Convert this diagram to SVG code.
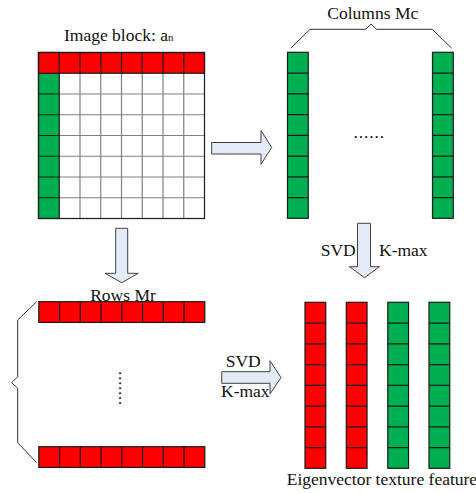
<svg xmlns="http://www.w3.org/2000/svg" xmlns:xlink="http://www.w3.org/1999/xlink" width="476" height="493" viewBox="0 0 476 493">
  <style>
    text { font-family: "Liberation Serif", "Times New Roman", serif; font-size: 17.5px; fill: #111; }
    .cell { stroke: #1a1a1a; stroke-width: 1.2; }
    .div { stroke: #1a1a1a; stroke-width: 1.2; fill: none; }
    .grey { stroke: #808080; stroke-width: 1.2; fill: none; }
    .arrow { fill: #e4ebf6; stroke: #404040; stroke-width: 1; stroke-linejoin: miter; }
    .brace { fill: none; stroke: #333; stroke-width: 1; }
    .red { fill: #ff0000; }
    .green { fill: #00b050; }
  </style>
  <defs>
    <!-- vertical bar of 8 cells; fill comes from the <use> element -->
    <g id="vbar">
      <rect class="cell" x="0" y="0" width="20.75" height="166"/>
      <path class="div" d="M0,20.75H20.75M0,41.5H20.75M0,62.25H20.75M0,83H20.75M0,103.75H20.75M0,124.5H20.75M0,145.25H20.75"/>
    </g>
    <!-- horizontal bar of 8 cells -->
    <g id="hbar">
      <rect class="cell" x="0" y="0" width="166" height="20.75"/>
      <path class="div" d="M20.75,0V20.75M41.5,0V20.75M62.25,0V20.75M83,0V20.75M103.75,0V20.75M124.5,0V20.75M145.25,0V20.75"/>
    </g>
  </defs>

  <!-- image block a_n -->
  <g id="image-block">
    <text x="64" y="41">Image block: a<tspan font-size="11">n</tspan></text>
    <rect x="59.25" y="73.25" width="145.25" height="145.25" fill="#fff"/>
    <path class="grey" d="M80,73.25V218.5M100.75,73.25V218.5M121.5,73.25V218.5M142.25,73.25V218.5M163,73.25V218.5M183.75,73.25V218.5M59.25,94H204.5M59.25,114.75H204.5M59.25,135.5H204.5M59.25,156.25H204.5M59.25,177H204.5M59.25,197.75H204.5"/>
    <use xlink:href="#vbar" x="38.5" y="52.5" class="green"/>
    <use xlink:href="#hbar" x="38.5" y="52.5" class="red"/>
    <rect x="38.5" y="52.5" width="166" height="166" fill="none" stroke="#1a1a1a" stroke-width="1.2"/>
  </g>

  <!-- columns Mc -->
  <g id="columns">
    <text x="327.3" y="19">Columns Mc</text>
    <path class="brace" d="M290.7,48.3L310,29.3H365.7L371,24L376.7,29.3H432.3L451.7,48.3"/>
    <use xlink:href="#vbar" x="287.5" y="52.3" class="green"/>
    <use xlink:href="#vbar" x="432.5" y="52.3" class="green"/>
    <text x="353.5" y="137.5" letter-spacing="0.9">......</text>
  </g>

  <!-- rows Mr -->
  <g id="rows">
    <path class="brace" d="M36.7,301.7L17.7,320V376.7L11.7,382.7L17.7,388.3V442.7L36.7,462.7"/>
    <use xlink:href="#hbar" x="38.8" y="301.7" class="red"/>
    <use xlink:href="#hbar" x="38.8" y="446.7" class="red"/>
    <text x="123" y="301" text-anchor="middle">Rows Mr</text>
    <text transform="translate(119,371) rotate(90)" letter-spacing="0.6">.......</text>
  </g>

  <!-- eigenvector texture feature -->
  <g id="features">
    <use xlink:href="#vbar" x="305" y="302.3" class="red"/>
    <use xlink:href="#vbar" x="346.3" y="302.3" class="red"/>
    <use xlink:href="#vbar" x="387.8" y="302.3" class="green"/>
    <use xlink:href="#vbar" x="429" y="302.3" class="green"/>
    <text x="286.7" y="485">Eigenvector texture feature</text>
  </g>

  <!-- block arrows -->
  <g id="connectors">
    <path class="arrow" d="M211.7,142.5H261V130.5L271.7,147.4L261,164.3V154H211.7Z"/>
    <path class="arrow" d="M115.7,228.3H127.7V273.3H138.3L121.7,282.7L105,273.3H115.7Z"/>
    <path class="arrow" d="M221.7,371.7H270V360.7L281,377.5L270,394V383.3H221.7Z"/>
    <path class="arrow" d="M357.5,223.3H370.5V266.7H379.5L364.5,277.7L349.5,266.7H357.5Z"/>
    <text x="225.7" y="366.7">SVD</text>
    <text x="221" y="396.7">K-max</text>
    <text x="320.7" y="256">SVD</text>
    <text x="379" y="256">K-max</text>
  </g>
</svg>
